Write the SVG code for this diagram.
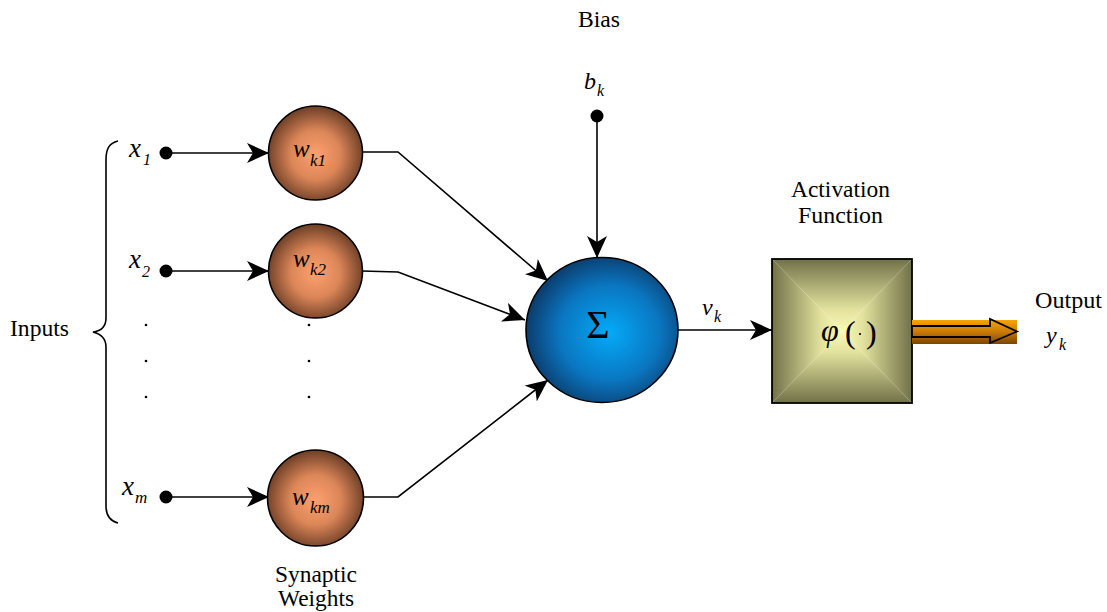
<svg xmlns="http://www.w3.org/2000/svg" width="1107" height="612" viewBox="0 0 1107 612">
<defs>
<style>
.t{font-family:"Liberation Serif","Times New Roman",serif;fill:#000}
.lbl{font-size:23px}
.it{font-style:italic}
.ln{stroke:#000;stroke-width:1.6;fill:none}
.edge{stroke:#000;stroke-width:1.6}
</style>
<radialGradient id="gW" cx="50%" cy="52%" r="52%">
<stop offset="0" stop-color="#fda070"/>
<stop offset="0.5" stop-color="#dc8658"/>
<stop offset="1" stop-color="#6c3e26"/>
</radialGradient>
<radialGradient id="gS" cx="55%" cy="52%" r="55%">
<stop offset="0" stop-color="#04aaf8"/>
<stop offset="0.6" stop-color="#0a76c0"/>
<stop offset="1" stop-color="#0b3c6c"/>
</radialGradient>
<linearGradient id="gT" gradientUnits="userSpaceOnUse" x1="0" y1="259" x2="0" y2="331">
<stop offset="0" stop-color="#717149"/><stop offset="0.7" stop-color="#e2e29e"/><stop offset="1" stop-color="#fafab6"/>
</linearGradient>
<linearGradient id="gB" gradientUnits="userSpaceOnUse" x1="0" y1="403" x2="0" y2="331">
<stop offset="0" stop-color="#717149"/><stop offset="0.7" stop-color="#e2e29e"/><stop offset="1" stop-color="#fafab6"/>
</linearGradient>
<linearGradient id="gL" gradientUnits="userSpaceOnUse" x1="772" y1="0" x2="842" y2="0">
<stop offset="0" stop-color="#717149"/><stop offset="0.7" stop-color="#e2e29e"/><stop offset="1" stop-color="#fafab6"/>
</linearGradient>
<linearGradient id="gR" gradientUnits="userSpaceOnUse" x1="912" y1="0" x2="842" y2="0">
<stop offset="0" stop-color="#717149"/><stop offset="0.7" stop-color="#e2e29e"/><stop offset="1" stop-color="#fafab6"/>
</linearGradient>
<linearGradient id="gO" x1="0" y1="0" x2="0" y2="1">
<stop offset="0" stop-color="#f8a400"/>
<stop offset="0.5" stop-color="#c97a08"/>
<stop offset="1" stop-color="#7a4600"/>
</linearGradient>
<marker id="ah" viewBox="0 0 22 20" refX="22" refY="10" markerWidth="22" markerHeight="20" markerUnits="userSpaceOnUse" orient="auto">
<path d="M0,0 L22,10 L0,20 L6,10 Z" fill="#000"/>
</marker>
</defs>

<!-- labels -->
<g id="labels">
<text class="t lbl" x="578" y="27" textLength="42" lengthAdjust="spacingAndGlyphs">Bias</text>
<text class="t lbl" x="10" y="336" textLength="59" lengthAdjust="spacingAndGlyphs">Inputs</text>
<text class="t lbl" x="275" y="582" textLength="82" lengthAdjust="spacingAndGlyphs">Synaptic</text>
<text class="t lbl" x="278" y="606" textLength="76" lengthAdjust="spacingAndGlyphs">Weights</text>
<text class="t lbl" x="791" y="197" textLength="99" lengthAdjust="spacingAndGlyphs">Activation</text>
<text class="t lbl" x="798" y="223" textLength="85" lengthAdjust="spacingAndGlyphs">Function</text>
<text class="t lbl" x="1035" y="308" textLength="67" lengthAdjust="spacingAndGlyphs">Output</text>
</g>

<!-- brace -->
<path id="brace" class="ln" d="M118,141 C109,143 106,149 106,160 L106,318 C106,327 101,331 93,332 C101,334 106,338 106,347 L106,506 C106,516 110,521 118,523"/>

<!-- ellipsis dots -->
<g id="dots" fill="#000">
<circle cx="146" cy="325" r="1.3"/><circle cx="146" cy="361" r="1.3"/><circle cx="146" cy="397" r="1.3"/>
<circle cx="309" cy="325" r="1.3"/><circle cx="309" cy="361" r="1.3"/><circle cx="309" cy="397" r="1.3"/>
</g>

<!-- connectors -->
<g id="connectors">
<line class="edge" x1="166" y1="153" x2="269" y2="153" marker-end="url(#ah)"/>
<line class="edge" x1="166" y1="271" x2="269" y2="271" marker-end="url(#ah)"/>
<line class="edge" x1="166" y1="497" x2="269" y2="497" marker-end="url(#ah)"/>
<polyline class="ln" points="362,152 398,152 548,281" marker-end="url(#ah)"/>
<polyline class="ln" points="362,271 398,272 525,320" marker-end="url(#ah)"/>
<polyline class="ln" points="362,497 398,497 548,380" marker-end="url(#ah)"/>
<line class="edge" x1="597" y1="116" x2="597" y2="258" marker-end="url(#ah)"/>
<line class="edge" x1="678" y1="330" x2="772" y2="330" marker-end="url(#ah)"/>
</g>

<!-- input nodes -->
<g id="input-x1">
<circle cx="166" cy="153" r="6.5" fill="#000"/>
<text class="t it" x="129" y="157" font-size="27">x</text>
<text class="t it" x="143" y="165" font-size="16">1</text>
</g>
<g id="input-x2">
<circle cx="166" cy="271" r="6.5" fill="#000"/>
<text class="t it" x="129" y="268" font-size="27">x</text>
<text class="t it" x="142" y="277" font-size="16">2</text>
</g>
<g id="input-xm">
<circle cx="166" cy="497" r="6.5" fill="#000"/>
<text class="t it" x="122" y="495" font-size="27">x</text>
<text class="t it" x="135" y="503" font-size="17">m</text>
</g>

<!-- bias -->
<g id="bias">
<circle cx="597" cy="116" r="6.5" fill="#000"/>
<text class="t it" x="584" y="89" font-size="24">b</text>
<text class="t it" x="597" y="96" font-size="16">k</text>
</g>

<!-- weights -->
<g id="weight-k1">
<circle cx="315.5" cy="153" r="47" fill="url(#gW)" stroke="#000" stroke-width="1.6"/>
<text class="t it" x="293" y="157" font-size="25">w</text>
<text class="t it" x="310" y="166" font-size="17">k1</text>
</g>
<g id="weight-k2">
<circle cx="315.5" cy="271" r="47" fill="url(#gW)" stroke="#000" stroke-width="1.6"/>
<text class="t it" x="293" y="267" font-size="25">w</text>
<text class="t it" x="310" y="275" font-size="17">k2</text>
</g>
<g id="weight-km">
<circle cx="315.5" cy="498" r="48" fill="url(#gW)" stroke="#000" stroke-width="1.6"/>
<text class="t it" x="292" y="505" font-size="25">w</text>
<text class="t it" x="310" y="513" font-size="17">km</text>
</g>

<!-- summing junction -->
<g id="sum">
<ellipse cx="602" cy="330" rx="76" ry="72.5" fill="url(#gS)" stroke="#000" stroke-width="1.6"/>
<text class="t" x="598" y="338" font-size="40" text-anchor="middle">Σ</text>
</g>

<g id="vk">
<text class="t it" x="702" y="315" font-size="24">v</text>
<text class="t it" x="714" y="322" font-size="16">k</text>
</g>

<!-- activation -->
<g id="activation">
<polygon points="772,259 912,259 842,331" fill="url(#gT)"/>
<polygon points="772,403 912,403 842,331" fill="url(#gB)"/>
<polygon points="772,259 772,403 842,331" fill="url(#gL)"/>
<polygon points="912,259 912,403 842,331" fill="url(#gR)"/>
<rect x="772" y="259" width="140" height="144" fill="none" stroke="#000" stroke-width="1.8"/>
<text class="t it" x="821" y="341" font-size="32">φ</text>
<text class="t" x="845" y="343" font-size="32">(</text>
<circle cx="860" cy="334" r="1.1" fill="#000"/>
<text class="t" x="866" y="343" font-size="32">)</text>
</g>

<!-- output -->
<g id="output">
<rect x="912" y="320" width="105" height="24" fill="url(#gO)"/>
<polygon points="912,326 990,326 990,319 1017,331.5 990,343 990,337 912,337" fill="none" stroke="#000" stroke-width="1.8"/>
<text class="t it" x="1046" y="343" font-size="24">y</text>
<text class="t it" x="1059" y="350" font-size="16">k</text>
</g>
</svg>
